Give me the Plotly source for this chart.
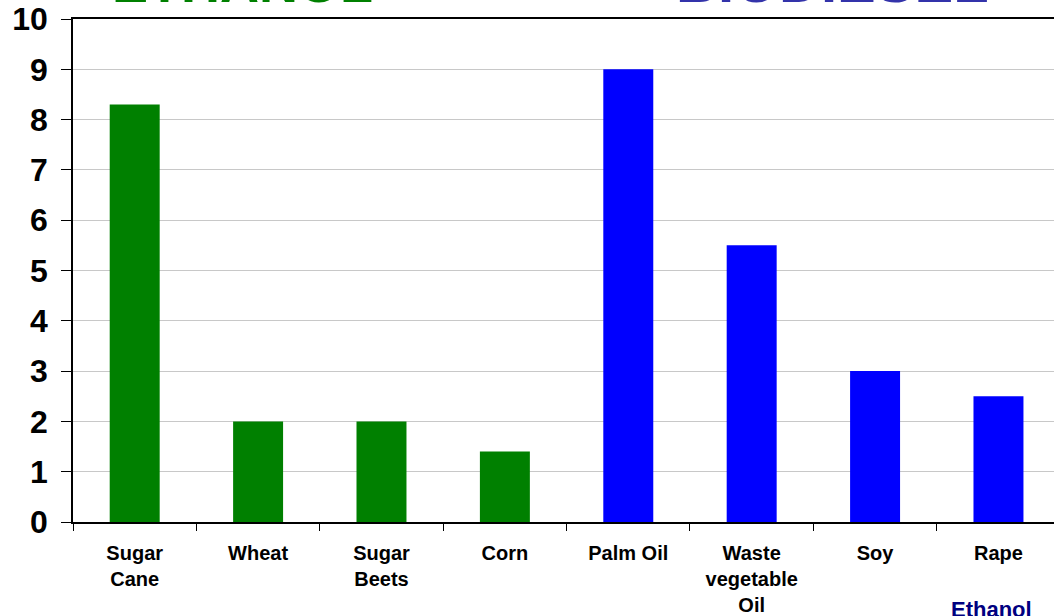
import plotly.graph_objects as go

# Energy balance by feedstock
ethanol_crops = ["Sugar<br>Cane", "Wheat", "Sugar<br>Beets", "Corn"]
ethanol_values = [8.3, 2.0, 2.0, 1.4]
biodiesel_crops = ["Palm Oil", "Waste<br>vegetable<br>Oil", "Soy", "Rape"]
biodiesel_values = [9.0, 5.5, 3.0, 2.5]
y_ticks = list(range(0, 11))

W, H = 1054, 616
M_L, M_R, M_T, M_B = 73, 0, 19, 94
PH = H - M_T - M_B
PW = W - M_L - M_R


def py(px):
    """Pixel row -> paper y."""
    return (H - M_B - px) / PH


def px_x(px):
    """Pixel column -> paper x."""
    return (px - M_L) / PW


FONT = "Liberation Sans, Arial, sans-serif"

fig = go.Figure()
fig.add_trace(go.Bar(x=ethanol_crops, y=ethanol_values, marker_color="#008000",
                     width=0.405, marker_line_width=0, name="Ethanol"))
fig.add_trace(go.Bar(x=biodiesel_crops, y=biodiesel_values, marker_color="#0000FF",
                     width=0.405, marker_line_width=0, name="Biodiesel"))

fig.update_layout(
    width=W, height=H,
    margin=dict(l=M_L, r=M_R, t=M_T, b=M_B, autoexpand=False),
    paper_bgcolor="white", plot_bgcolor="white",
    showlegend=False,
    font=dict(family=FONT, color="black"),
    xaxis=dict(
        type="category",
        categoryorder="array",
        categoryarray=ethanol_crops + biodiesel_crops,
        range=[-0.5, 7.45],
        automargin=False,
        showline=True, linecolor="black", linewidth=1.5, mirror=True,
        ticks="outside", tickson="boundaries", ticklen=7, tickcolor="black",
        tickfont=dict(size=20, family=FONT, weight="bold", color="black"),
        showgrid=False,
        ticklabelstandoff=12,
    ),
    yaxis=dict(
        range=[0, 10],
        tickvals=y_ticks,
        automargin=False,
        showline=True, linecolor="black", linewidth=1.5,
        ticks="outside", ticklen=10, tickcolor="black",
        tickfont=dict(size=32, family=FONT, weight="bold", color="black"),
        showgrid=True, gridcolor="#c8c8c8", gridwidth=1,
        zeroline=False,
        ticklabelstandoff=7,
    ),
    annotations=[
        dict(text="ETHANOL", xref="paper", yref="paper",
             x=px_x(242), y=py(3), xanchor="center", yanchor="bottom",
             showarrow=False, yshift=-12,
             font=dict(size=54, family=FONT, weight="bold", color="#008000")),
        dict(text="BIODIESEL", xref="paper", yref="paper",
             x=px_x(832), y=py(3), xanchor="center", yanchor="bottom",
             showarrow=False, yshift=-13,
             font=dict(size=58, family=FONT, weight="bold", color="#3333AA")),
        dict(text="Ethanol", xref="paper", yref="paper",
             x=px_x(949), y=py(595), xanchor="left", yanchor="top",
             showarrow=False,
             font=dict(size=22, family=FONT, weight="bold", color="#000080")),
    ],
)

fig.write_html("out.html")
